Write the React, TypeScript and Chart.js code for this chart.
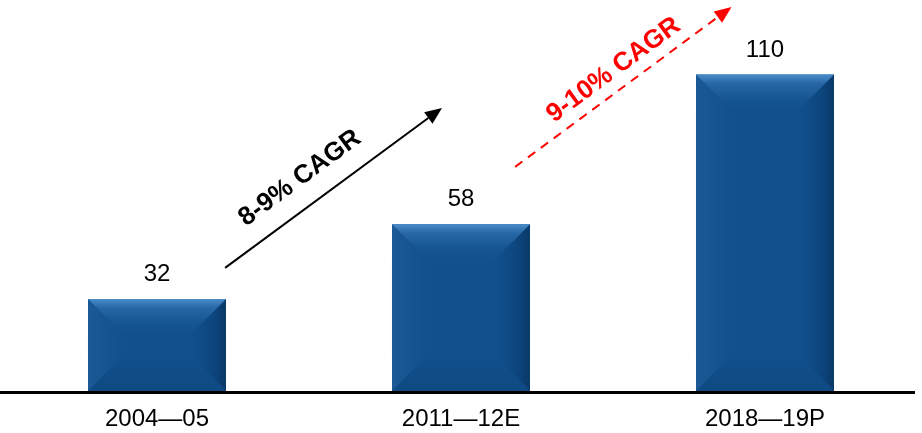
import React, { useEffect, useRef } from 'react';
import { Chart, registerables } from 'chart.js';

Chart.register(...registerables);

// ---- data ----
const categories: string[] = ['2004—05', '2011—12E', '2018—19P'];
const values: number[] = [32, 58, 110];
const yMin = 0;
const yMax = 130;

// annotations in data units: [categoryIndex, value]
const blackArrowFrom: [number, number] = [0.224, 42.8];
const blackArrowTo: [number, number] = [0.9375, 98.4];
const blackLabel = '8-9% CAGR';
const blackLabelAt: [number, number] = [0.47, 74.0];

const redArrowFrom: [number, number] = [1.178, 77.9];
const redArrowTo: [number, number] = [1.89, 133.5];
const redLabel = '9-10% CAGR';
const redLabelAt: [number, number] = [1.502, 111.6];

const FONT = '"Liberation Sans", Arial, sans-serif';
const FACE = '#11508C';

function drawArrow(ctx: CanvasRenderingContext2D, x0: number, y0: number, x1: number, y1: number, color: string, dash: number[]) {
  const ang = Math.atan2(y1 - y0, x1 - x0);
  const headLen = 17;
  const headW = 7;
  const bx = x1 - headLen * Math.cos(ang);
  const by = y1 - headLen * Math.sin(ang);
  ctx.save();
  ctx.strokeStyle = color;
  ctx.fillStyle = color;
  ctx.lineWidth = 2;
  ctx.setLineDash(dash);
  ctx.beginPath();
  ctx.moveTo(x0, y0);
  ctx.lineTo(bx, by);
  ctx.stroke();
  ctx.setLineDash([]);
  ctx.beginPath();
  ctx.moveTo(x1, y1);
  ctx.lineTo(bx + headW * Math.sin(ang), by - headW * Math.cos(ang));
  ctx.lineTo(bx - headW * Math.sin(ang), by + headW * Math.cos(ang));
  ctx.closePath();
  ctx.fill();
  ctx.restore();
}

const bevelPlugin = {
  id: 'bevel',
  afterDatasetsDraw(chart: any) {
    const ctx: CanvasRenderingContext2D = chart.ctx;
    const meta = chart.getDatasetMeta(0);
    meta.data.forEach((bar: any) => {
      const { x, y, base, width } = bar.getProps(['x', 'y', 'base', 'width'], true);
      const l = x - width / 2;
      const r = x + width / 2;
      const t = y;
      const b = base;
      const s = Math.min(36, (b - t) / 2, width / 2);
      ctx.save();
      // left
      let g = ctx.createLinearGradient(l, 0, l + s, 0);
      g.addColorStop(0, '#1A5996');
      g.addColorStop(1, FACE);
      ctx.fillStyle = g;
      ctx.beginPath();
      ctx.moveTo(l, t); ctx.lineTo(l + s, t + s); ctx.lineTo(l + s, b - s); ctx.lineTo(l, b); ctx.closePath();
      ctx.fill();
      // right
      g = ctx.createLinearGradient(r - s, 0, r, 0);
      g.addColorStop(0, FACE);
      g.addColorStop(0.6, '#0D4780');
      g.addColorStop(1, '#093A68');
      ctx.fillStyle = g;
      ctx.beginPath();
      ctx.moveTo(r, t); ctx.lineTo(r - s, t + s); ctx.lineTo(r - s, b - s); ctx.lineTo(r, b); ctx.closePath();
      ctx.fill();
      // bottom
      g = ctx.createLinearGradient(0, b - s, 0, b);
      g.addColorStop(0, FACE);
      g.addColorStop(1, '#0F4A82');
      ctx.fillStyle = g;
      ctx.beginPath();
      ctx.moveTo(l, b); ctx.lineTo(l + s, b - s); ctx.lineTo(r - s, b - s); ctx.lineTo(r, b); ctx.closePath();
      ctx.fill();
      // top
      g = ctx.createLinearGradient(0, t, 0, t + s);
      g.addColorStop(0, '#4A8BC9');
      g.addColorStop(0.25, '#2767A6');
      g.addColorStop(0.7, '#14548F');
      g.addColorStop(1, FACE);
      ctx.fillStyle = g;
      ctx.beginPath();
      ctx.moveTo(l, t); ctx.lineTo(r, t); ctx.lineTo(r - s, t + s); ctx.lineTo(l + s, t + s); ctx.closePath();
      ctx.fill();
      ctx.restore();
    });
  },
  afterDraw(chart: any) {
    const ctx: CanvasRenderingContext2D = chart.ctx;
    const xs = chart.scales.x;
    const ys = chart.scales.y;
    const area = chart.chartArea;
    ctx.save();
    // axis line
    ctx.strokeStyle = '#000';
    ctx.lineWidth = 3;
    ctx.beginPath();
    ctx.moveTo(area.left - 5, area.bottom + 1.5);
    ctx.lineTo(area.right - 2, area.bottom + 1.5);
    ctx.stroke();
    // value labels
    ctx.fillStyle = '#000';
    ctx.font = `24px ${FONT}`;
    ctx.textAlign = 'center';
    ctx.textBaseline = 'alphabetic';
    const meta = chart.getDatasetMeta(0);
    meta.data.forEach((bar: any, i: number) => {
      ctx.fillText(String(values[i]), bar.x, bar.y - 18);
    });
    // arrows
    const P = (p: [number, number]) => [xs.getPixelForValue(p[0]), ys.getPixelForValue(p[1])];
    const [bx0, by0] = P(blackArrowFrom);
    const [bx1, by1] = P(blackArrowTo);
    drawArrow(ctx, bx0, by0, bx1, by1, '#000', []);
    const [rx0, ry0] = P(redArrowFrom);
    const [rx1, ry1] = P(redArrowTo);
    drawArrow(ctx, rx0, ry0, rx1, ry1, '#FF0000', [9, 7]);
    // labels
    const drawLabel = (text: string, at: [number, number], color: string, ang: number) => {
      const [px, py] = P(at);
      ctx.save();
      ctx.translate(px, py);
      ctx.rotate(ang);
      ctx.fillStyle = color;
      ctx.font = `bold 26px ${FONT}`;
      ctx.textAlign = 'center';
      ctx.textBaseline = 'middle';
      ctx.fillText(text, 0, 0);
      ctx.restore();
    };
    drawLabel(blackLabel, blackLabelAt, '#000', Math.atan2(by1 - by0, bx1 - bx0));
    drawLabel(redLabel, redLabelAt, '#FF0000', Math.atan2(ry1 - ry0, rx1 - rx0));
    ctx.restore();
  },
};

export default function App() {
  const ref = useRef<HTMLCanvasElement | null>(null);
  useEffect(() => {
    if (!ref.current) return;
    const chart = new Chart(ref.current, {
      type: 'bar',
      data: {
        labels: categories,
        datasets: [
          {
            data: values,
            backgroundColor: FACE,
            borderWidth: 0,
            categoryPercentage: 1,
            barPercentage: 0.454,
          },
        ],
      },
      options: {
        animation: false,
        responsive: false,
        devicePixelRatio: 1,
        layout: { padding: { left: 5, right: 5, top: 17, bottom: 0 } },
        plugins: { legend: { display: false }, tooltip: { enabled: false } },
        scales: {
          x: {
            grid: { display: false, drawTicks: false },
            border: { display: false },
            ticks: { color: '#000', font: { family: FONT, size: 24 }, padding: 14, maxRotation: 0 },
            afterFit: (scale: any) => { scale.height = 42; },
          },
          y: {
            display: false,
            min: yMin,
            max: yMax,
          },
        },
      },
      plugins: [bevelPlugin],
    });
    return () => chart.destroy();
  }, []);
  return (
    <div style={{ position: 'fixed', left: 0, top: 0, width: 922, height: 433, background: '#fff' }}>
      <canvas ref={ref} width={922} height={433} />
    </div>
  );
}
